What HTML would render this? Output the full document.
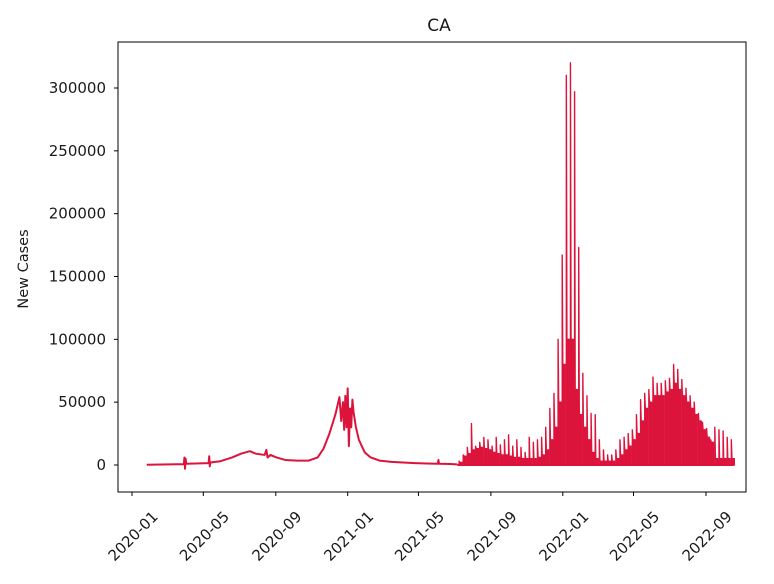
<!DOCTYPE html>
<html><head><meta charset="utf-8"><style>
body{margin:0;background:#fff;font-family:"Liberation Sans",sans-serif}
svg text{font-family:"DejaVu Sans","Liberation Sans",sans-serif;font-size:15px;fill:#1a1a1a}
</style></head><body>
<svg width="774" height="579" viewBox="0 0 774 579">
<text x="439" y="31" text-anchor="middle" style="font-size:17px">CA</text>
<g id="yaxis"></g>
<g id="xaxis"></g>
<g id="series"></g>
<rect x="118" y="42" width="628" height="450" fill="none" stroke="#000" stroke-width="1"/>
<text transform="translate(28,269) rotate(-90)" text-anchor="middle" style="font-size:14.5px">New Cases</text>
</svg>
<script>
const yTicks=[0,50000,100000,150000,200000,250000,300000];
const xTickLabels=["2020-01","2020-05","2020-09","2021-01","2021-05","2021-09","2022-01","2022-05","2022-09"];
const xTickDays=[0,121,244,366,486,609,731,851,974];
// daily reporting period: [dayFrom2020-01-01] -> newCases
const lineDays=[25,88,89,90,91,92,130,131,132,133,150,170,185,200,210,225,228,230,235,245,260,280,300,315,325,335,345,352,355,358,360,362,364,366,368,370,372,374,376,380,385,395,405,420,440,460,480,500,519,520,521,540,552];
const lineVals=[200,700,6000,-3000,5000,1000,1500,7000,-1000,2000,3000,6000,9000,11000,9000,8000,12000,6000,8000,6000,4000,3500,3500,6000,13000,25000,40000,54000,35000,50000,28000,55000,30000,61000,15000,45000,30000,52000,42000,30000,20000,10000,6000,3500,2500,2000,1500,1200,1000,4000,1000,800,500];
// weekly reporting period: first report day, weekly peak value, level on other days
const weekStartDay=555;
const weekPeaks=[3000,8000,14000,33000,15000,18000,22000,20000,15000,22000,16000,20000,24000,15000,20000,14000,10000,22000,18000,
20000,22000,30000,45000,57000,100000,167000,310000,320000,297000,173000,73000,55000,41000,40000,
20000,12000,8000,8000,12000,20000,22000,25000,28000,40000,52000,57000,60000,70000,65000,65000,67000,69000,80000,76000,68000,61000,55000,50000,41000,34000,29000,20000,30000,28000,27000,22000,20000];
const weekLevels=[2000,7000,9000,12000,13000,14000,13000,12000,10000,9000,8000,8000,7000,6000,6000,5000,5000,5000,5000,
6000,8000,12000,20000,30000,50000,80000,100000,100000,60000,40000,30000,20000,10000,5000,
3000,3000,3000,3000,5000,8000,12000,15000,20000,25000,35000,45000,50000,55000,55000,55000,58000,60000,65000,60000,55000,50000,45000,40000,35000,28000,22000,18000,5000,5000,5000,5000,5000];
const X=d=>132+d*(574/974);
const Y=v=>465-v*(377/300000);
const NS="http://www.w3.org/2000/svg";
const mk=(t,a,p)=>{const e=document.createElementNS(NS,t);for(const k in a)e.setAttribute(k,a[k]);p.appendChild(e);return e;};
const ya=document.getElementById('yaxis');
yTicks.forEach(v=>{
 const l=mk('line',{x1:114,x2:118,y1:Y(v),y2:Y(v),stroke:'#000'},ya);
 
 
 const t=mk('text',{x:106,y:Y(v)+5,'text-anchor':'end'},ya);t.textContent=v;
 
 
});
const xa=document.getElementById('xaxis');
xTickDays.forEach((d,i)=>{
 const x=X(d);
 const l=mk('line',{x1:x,x2:x,y1:492,y2:496,stroke:'#000'},xa);
 
 
 const t=mk('text',{x:0,y:0,dy:'0.35em','text-anchor':'middle',transform:`translate(${x+1},${536}) rotate(-45)`},xa);t.textContent=xTickLabels[i];
 
 
});
const s=document.getElementById('series');
const C='#dc143c';
const pl=mk('polyline',{points:lineDays.map((d,i)=>X(d)+','+Y(lineVals[i])).join(' '),fill:'none',stroke:C,'stroke-width':2,'stroke-linejoin':'round'},s);


const lastDay=weekStartDay+7*(weekPeaks.length-1)+4;
const bl=mk('line',{x1:X(lineDays[lineDays.length-1]),x2:X(lastDay),y1:Y(0),y2:Y(0),stroke:C,'stroke-width':2},s);


weekPeaks.forEach((p,k)=>{
 const d=weekStartDay+7*k;
 const m=Math.min(weekLevels[k],p);
 const f=mk('polygon',{points:`${X(d)},${Y(0)} ${X(d)},${Y(p)} ${X(d+1)},${Y(m)} ${X(d+5)},${Y(m)} ${X(d+5)},${Y(0)}`,fill:C,stroke:C,'stroke-width':1.4,'stroke-linejoin':'round'},s);
 
 
});
</script>
</body></html>
